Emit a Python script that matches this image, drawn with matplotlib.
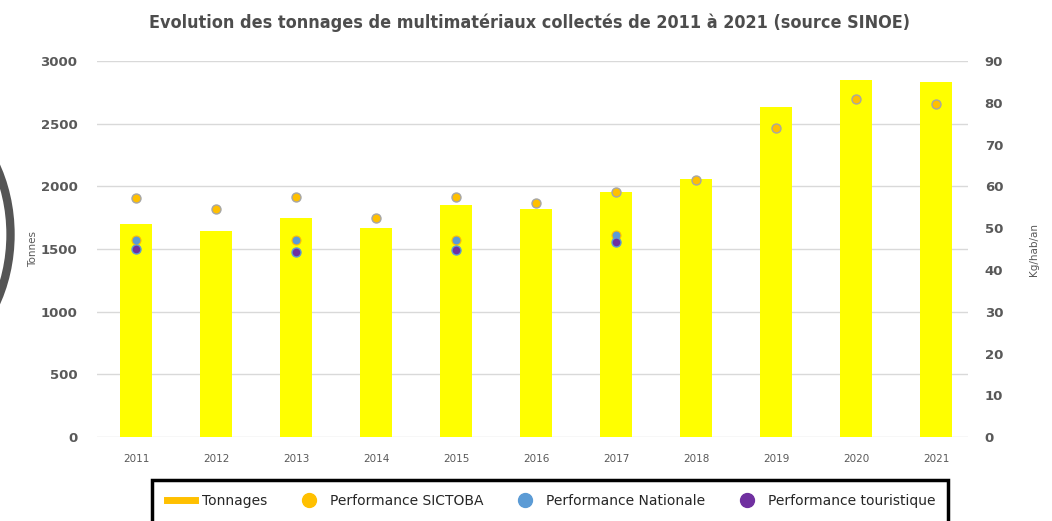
import matplotlib
matplotlib.use("Agg")
import matplotlib.pyplot as plt
from matplotlib.patches import Rectangle, Arc
from matplotlib.lines import Line2D
import numpy as np

years = ["2011", "2012", "2013", "2014", "2015", "2016", "2017", "2018", "2019", "2020", "2021"]
tonnages = [1700, 1640, 1750, 1670, 1850, 1820, 1955, 2060, 2630, 2850, 2830]
perf_sictoba = [57.2, 54.5, 57.4, 52.4, 57.4, 56.0, 58.7, 61.4, 74.0, 80.8, 79.8]
perf_nationale = [47.1, None, 47.1, None, 47.1, None, 48.4, None, None, None, None]
perf_touristique = [45.0, None, 44.4, None, 44.7, None, 46.7, None, None, None, None]

GRAY = "#595959"
fig = plt.figure(figsize=(10.52, 5.21), dpi=100)
ax = fig.add_axes([0.0922, 0.161, 0.828, 0.722])
ax2 = ax.twinx()

x = np.arange(len(years))
ax.bar(x, tonnages, width=0.4, color="#FFFF00", zorder=2)
ax.set_ylim(0, 3000)
ax.set_yticks(range(0, 3001, 500))
ax.set_xlim(-0.49, len(years) - 0.6)
ax.set_xticks(x)
ax.set_xticklabels(years, fontsize=7.5, color=GRAY)
ax.yaxis.grid(True, color="#d9d9d9", lw=1)
ax.set_axisbelow(True)
for s in ax.spines.values():
    s.set_visible(False)
for s in ax2.spines.values():
    s.set_visible(False)
ax.tick_params(axis="both", length=0)
ax.tick_params(axis="x", pad=12)
ax.tick_params(axis="y", pad=14)
for lab in ax.get_yticklabels():
    lab.set_fontweight("bold"); lab.set_color(GRAY); lab.set_fontsize(9.5)
ax.set_ylabel("Tonnes", fontsize=7.5, color=GRAY)
ax.yaxis.set_label_coords(-0.068, 0.5)

ax2.set_ylim(0, 90)
ax2.set_yticks(range(0, 91, 10))
ax2.tick_params(axis="y", length=0, pad=12)
for lab in ax2.get_yticklabels():
    lab.set_fontweight("bold"); lab.set_color(GRAY); lab.set_fontsize(9.5)
ax2.set_ylabel("Kg/hab/an", fontsize=7.5, color=GRAY)
ax2.yaxis.set_label_coords(1.07, 0.5)

def pts(vals):
    xs = [i for i, v in enumerate(vals) if v is not None]
    ys = [v for v in vals if v is not None]
    return xs, ys

xs, ys = pts(perf_sictoba)
ax2.scatter(xs, ys, s=42, color="#FFC000", edgecolors="#A6A6A6", linewidths=1, zorder=5)
xs, ys = pts(perf_nationale)
ax2.scatter(xs, ys, s=42, color="#5B9BD5", edgecolors="#FFC000", linewidths=0.8, zorder=5)
xs, ys = pts(perf_touristique)
ax2.scatter(xs, ys, s=42, color="#7030A0", edgecolors="#5B9BD5", linewidths=1, zorder=6)

fig.text(0.503, 0.957, "Evolution des tonnages de multimatériaux collectés de 2011 à 2021 (source SINOE)",
         ha="center", va="center", fontsize=12.9, fontweight="bold", color="#4d4d4d",
         family="DejaVu Sans", fontstretch="condensed")

# Legend box
fig.patches.append(Rectangle((0.1445, -0.05), 0.757, 0.128, transform=fig.transFigure,
                             fill=False, edgecolor="black", lw=2.5))
handles = [
    Line2D([], [], color="#FFC000", lw=5),
    Line2D([], [], marker="o", ls="", color="#FFC000", markersize=10),
    Line2D([], [], marker="o", ls="", color="#5B9BD5", markersize=10),
    Line2D([], [], marker="o", ls="", color="#7030A0", markersize=10),
]
labels = ["Tonnages", "Performance SICTOBA", "Performance Nationale", "Performance touristique"]
leg = fig.legend(handles, labels, loc="center", bbox_to_anchor=(0.524, 0.038), ncol=4,
                 frameon=False, fontsize=10, handlelength=2.0, columnspacing=2.0, handletextpad=0.5)
for t in leg.get_texts():
    t.set_color("#262626")

# decorative arc on the left
fig.patches.append(Arc((-0.09, 0.55), 0.2, 0.52, theta1=-80, theta2=80,
                       transform=fig.transFigure, color="#555555", lw=6))

fig.savefig("out.png", dpi=100)
